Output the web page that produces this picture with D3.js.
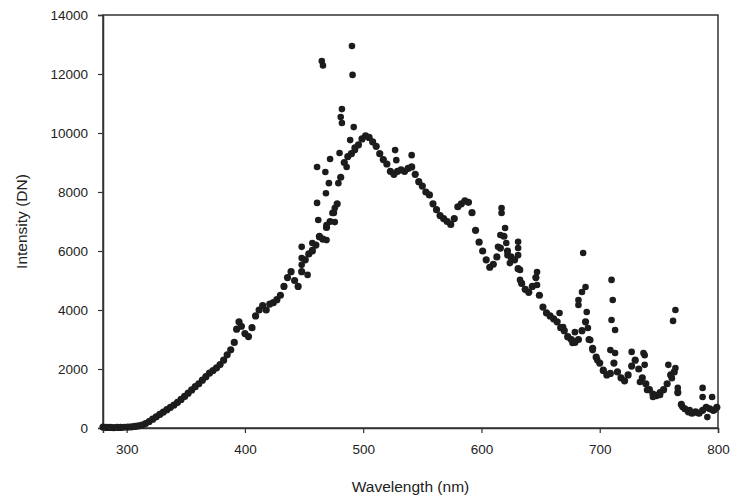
<!DOCTYPE html>
<html>
<head>
<meta charset="utf-8">
<script src="https://cdn.jsdelivr.net/npm/d3@7"></script>
<style>
  body { margin: 0; background: #fff; }
  text { font-family: "Liberation Sans", Arial, sans-serif; fill: #222; }
</style>
</head>
<body>
<svg id="chart" width="735" height="504"></svg>
<script>
// main spectrum trace, [wavelength nm, intensity DN]
const spectrum = [
  [280,30],[283,20],[286,20],[289,15],[292,20],[295,20],[298,25],[301,30],[304,40],[307,55],
  [310,70],[313,100],[316,150],[319,220],[322,300],[325,380],[328,460],[331,540],[334,620],[337,700],
  [340,780],[343,870],[346,970],[349,1070],[352,1180],[355,1290],[358,1400],[361,1500],[364,1620],[367,1740],
  [370,1860],[373,1950],[376,2040],[379,2150],[382,2300],[385,2480],[388,2650],[391,2900],[393,3350],[395,3600],
  [397,3450],[400,3200],[403,3100],[406,3400],[409,3800],[412,4000],[415,4150],[418,4000],[421,4200],[424,4250],
  [427,4350],[430,4500],[433,4800],[436,5100],[439,5300],[442,5000],[445,4800],[448,5300],[451,5700],[454,5900],
  [457,6000],[460,6200],[463,6500],[466,6400],[469,6800],[472,7000],[475,7300],[478,7600],[481,8500],[484,9000],
  [487,9200],[490,9300],[493,9500],[496,9600],[499,9800],[502,9900],[505,9850],[508,9700],[511,9550],[514,9300],
  [517,9100],[520,8950],[523,8700],[526,8600],[529,8700],[532,8750],[535,8700],[538,8800],[541,8850],[544,8600],
  [547,8350],[550,8200],[553,8000],[556,7900],[559,7600],[562,7400],[565,7200],[568,7100],[571,7000],[574,6900],
  [577,7100],[580,7500],[583,7600],[586,7700],[589,7650],[592,7300],[595,6700],[598,6300],[601,6000],[604,5700],
  [607,5450],[610,5550],[613,5800],[616,6100],[619,6500],[622,6000],[625,5800],[628,5700],[631,5400],[634,4900],
  [637,4700],[640,4600],[643,4800],[646,5100],[649,4500],[652,4100],[655,3900],[658,3800],[661,3700],[664,3600],
  [667,3400],[670,3300],[673,3100],[676,3000],[679,2900],[682,3000],[685,3300],[688,3600],[691,3000],[694,2700],
  [697,2400],[700,2200],[703,1950],[706,1800],[709,1850],[712,2200],[715,1900],[718,1700],[721,1600],[724,1800],
  [727,2100],[730,2300],[733,2000],[736,1700],[739,1500],[742,1300],[745,1150],[748,1100],[751,1200],[754,1300],
  [757,1500],[760,1800],[763,1900],[766,1200],[769,800],[772,650],[775,550],[778,500],[781,550],[784,500],
  [787,600],[790,700],[793,650],[796,600],[799,700]
];

// scattered points off the main trace
const scatter = [
  [465,12440],[466,12290],[490.5,12950],[491,11970],[482,10810],[481,10540],[482,10340],[492,10200],
  [489,9760],[480,9320],[472,9120],[461,8850],[468,8680],[471,8300],[479,8300],[468.5,7960],[461,7630],
  [476,7460],[474,7290],[462,7050],[469,6880],[476,6980],[448,6140],[463,6470],[469,6370],[457,6270],
  [457,6030],[448,5760],[448,5530],[453,5190],[486,8850],[493,9420],[527,9420],[541,9250],[528,9080],
  [617,7460],[617,7290],[620,6780],[616,6540],[614,6140],[621,6270],[622,5860],[631,6310],[631,6100],
  [631,5860],[632.6,5360],[632.6,5020],[647,5290],[647,4850],[624,5590],
  [686,5930],[710,5020],[711,4340],[688,4780],[685,4610],[682,4340],[682,4170],[689,3930],[710,3660],
  [713,3320],[690,3390],[692,2980],[679,3250],[666,3900],[669,3420],[673,3080],[677,2880],[694,2640],
  [698,2300],[703,1970],[709,2640],[713,2540],[727,2580],[737,2540],
  [764,4000],[762,3630],[738,2470],[738,2140],[758,2140],[764,2030],[761,1690],[766,1360],[770,710],
  [776,610],[787,1360],[787,1050],[795,1050],[797,610],[791,370],[783,510],[751,1120],[745,1050],
  [740,1290],[734,1560]
];

const xTicks = [300, 400, 500, 600, 700, 800];
const yTicks = [0, 2000, 4000, 6000, 8000, 10000, 12000, 14000];

const margin = { top: 15, right: 17, bottom: 76, left: 103 };
const width = 735 - margin.left - margin.right;
const height = 504 - margin.top - margin.bottom;

const svg = d3.select("#chart");
const g = svg.append("g").attr("transform", `translate(${margin.left},${margin.top})`);

const x = d3.scaleLinear().domain([280, 800]).range([0, width]);
const y = d3.scaleLinear().domain([0, 14000]).range([height, 0]);

const axisColor = "#333";

// frame
g.append("rect")
  .attr("width", width)
  .attr("height", height)
  .attr("fill", "none")
  .attr("stroke", axisColor)
  .attr("stroke-width", 1.5);

const xAxis = g.append("g")
  .attr("transform", `translate(0,${height})`)
  .call(d3.axisBottom(x).tickValues(xTicks).tickSize(5).tickPadding(11).tickFormat(d3.format("d")));

const yAxis = g.append("g")
  .call(d3.axisLeft(y).tickValues(yTicks).tickSize(5).tickPadding(10).tickFormat(d3.format("d")));

[xAxis, yAxis].forEach((ax) => {
  ax.select(".domain").attr("stroke", axisColor).attr("stroke-width", 1.5);
  ax.selectAll(".tick line").attr("stroke", axisColor).attr("stroke-width", 1.2);
  ax.selectAll(".tick text")
    .attr("fill", "#222")
    .style("font-size", "13.5px")
    .style("font-family", "'Liberation Sans', Arial, sans-serif");
});

// data dots
const dotColor = "#1c1c1c";
const dotR = 3.6;
g.selectAll("circle.trace")
  .data(spectrum)
  .enter()
  .append("circle")
  .attr("class", "trace")
  .attr("cx", (d) => x(d[0]))
  .attr("cy", (d) => y(d[1]))
  .attr("r", dotR)
  .attr("fill", dotColor);

g.selectAll("circle.scatter")
  .data(scatter)
  .enter()
  .append("circle")
  .attr("class", "scatter")
  .attr("cx", (d) => x(d[0]))
  .attr("cy", (d) => y(d[1]))
  .attr("r", 3.3)
  .attr("fill", dotColor);

// axis titles
svg.append("text")
  .attr("x", margin.left + width / 2)
  .attr("y", 492)
  .attr("text-anchor", "middle")
  .style("font-size", "15.5px")
  .text("Wavelength (nm)");

svg.append("text")
  .attr("transform", `translate(27,${margin.top + height / 2}) rotate(-90)`)
  .attr("text-anchor", "middle")
  .style("font-size", "15.5px")
  .text("Intensity (DN)");
</script>
</body>
</html>
